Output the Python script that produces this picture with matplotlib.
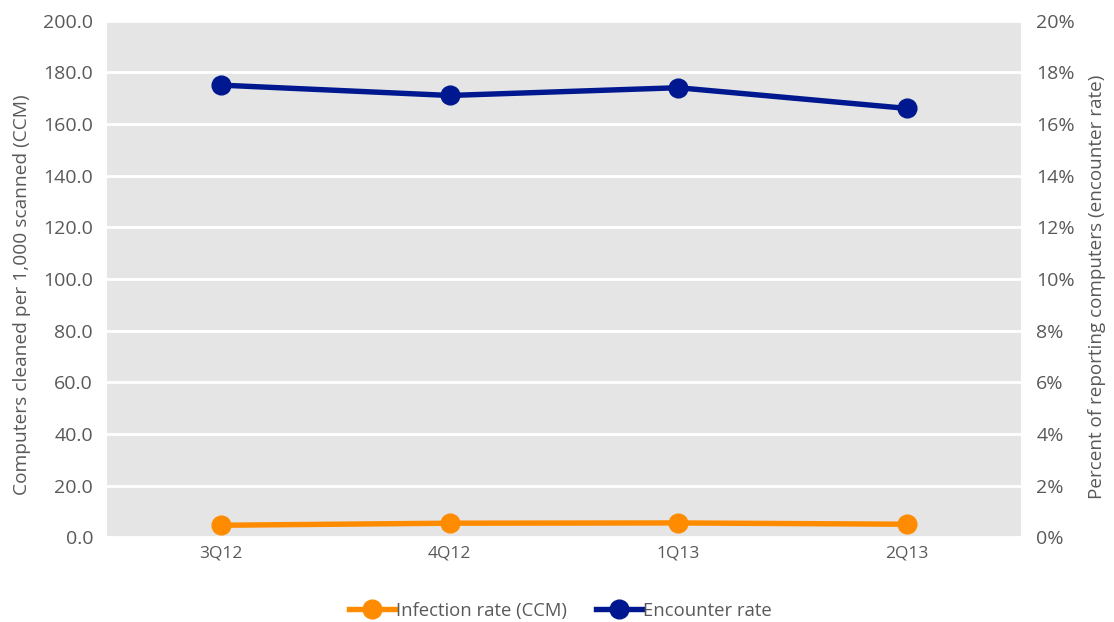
import matplotlib.pyplot as plt
from matplotlib.ticker import FuncFormatter

quarters = ["3Q12", "4Q12", "1Q13", "2Q13"]
infection_rate = [4.7, 5.5, 5.6, 5.1]         # CCM, left axis
encounter_rate = [17.5, 17.1, 17.4, 16.6]     # percent, right axis

plt.rcParams['font.family'] = ['Open Sans', 'DejaVu Sans']
text_color = "#595959"
orange = "#FF8C00"
navy = "#00188F"

fig = plt.figure(figsize=(11.14, 6.22), dpi=100)
ax = fig.add_axes([0.096, 0.136, 0.8205, 0.831])
ax2 = ax.twinx()

x = range(len(quarters))
ax.set_facecolor("#E5E5E5")

line_inf, = ax.plot(x, infection_rate, color=orange, lw=3.9, marker="o", markersize=13.5,
                    label="Infection rate (CCM)", zorder=3, clip_on=False)
line_enc, = ax2.plot(x, encounter_rate, color=navy, lw=3.9, marker="o", markersize=13.5,
                     label="Encounter rate", zorder=3)

ax.set_xlim(-0.5, 3.5)
ax.set_ylim(0, 200)
ax.set_yticks(range(0, 201, 20))
ax.yaxis.set_major_formatter(FuncFormatter(lambda v, p: f"{v:.1f}"))
ax2.set_ylim(0, 20)
ax2.set_yticks(range(0, 21, 2))
ax2.yaxis.set_major_formatter(FuncFormatter(lambda v, p: f"{v:.0f}%"))

ax.set_xticks(list(x))
ax.set_xticklabels(quarters)

ax.grid(axis="y", color="white", lw=2)
ax.set_axisbelow(True)

for a in (ax, ax2):
    for s in a.spines.values():
        s.set_visible(False)
    a.tick_params(length=0, labelsize=14, labelcolor=text_color)
ax.tick_params(axis="x", labelsize=12.5, pad=6)
ax.tick_params(axis="y", pad=10)
ax2.tick_params(axis="y", pad=11)

ax.set_ylabel("Computers cleaned per 1,000 scanned (CCM)", fontsize=13.8, color=text_color, labelpad=9)
ax2.set_ylabel("Percent of reporting computers (encounter rate)", fontsize=13.6, color=text_color, labelpad=9)
ax.yaxis.label.set_y(0.47)
ax2.yaxis.label.set_y(0.485)

fig.legend(handles=[line_inf, line_enc], loc="center", bbox_to_anchor=(0.503, 0.018),
           ncol=2, frameon=False, fontsize=13.3, labelcolor=text_color,
           handlelength=2.5, handletextpad=0.05, columnspacing=1.6)

fig.savefig("out.png", dpi=100)
